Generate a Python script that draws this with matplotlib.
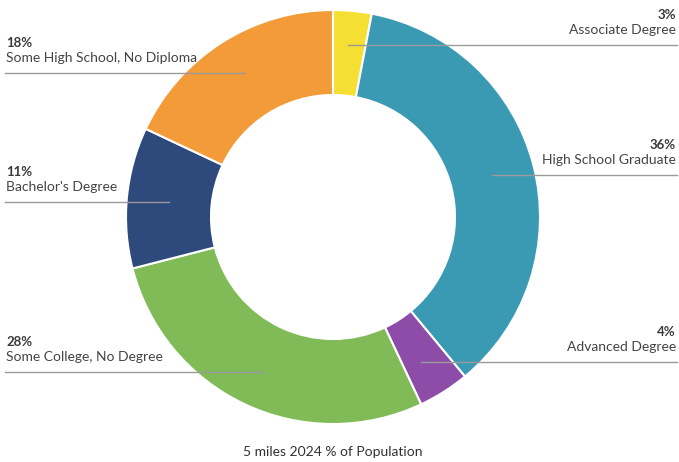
import numpy as np
import matplotlib.pyplot as plt

# data (clockwise from 12 o'clock)
categories = ["Associate Degree", "High School Graduate", "Advanced Degree",
              "Some College, No Degree", "Bachelor's Degree",
              "Some High School, No Diploma"]
shares = [3, 36, 4, 28, 11, 18]
colors = ["#F6DF33", "#3A9AB4", "#8C4CA8", "#80BB58", "#2E4A7C", "#F29B38"]
title = "5 miles 2024 % of Population"

# label layout: side and y (pixels from top) of the leader line
label_side = ["right", "right", "right", "left", "left", "left"]
label_line_y = [45, 175, 362, 372, 202, 73]

W, H = 679, 462
cx, cy = 333, 217
r_out, r_in = 207, 122

fig = plt.figure(figsize=(W / 100, H / 100), dpi=100)
ax = fig.add_axes([0, 0, 1, 1])
ax.axis("off")

wedges, _ = ax.pie(shares, colors=colors, startangle=90, counterclock=False,
                   center=(cx, H - cy), radius=r_out,
                   wedgeprops=dict(width=r_out - r_in, edgecolor="white", linewidth=1.5))
ax.set_xlim(0, W)
ax.set_ylim(0, H)
ax.set_aspect("equal")

r_mid = (r_out + r_in) / 2
font = "Lato"
for w, name, pct, side, ly in zip(wedges, categories, shares, label_side, label_line_y):
    ang = np.deg2rad((w.theta1 + w.theta2) / 2)
    x_end = cx + r_mid * np.cos(ang)
    y = H - ly
    if side == "left":
        ax.plot([5, x_end], [y, y], color="#9a9a9a", lw=1, zorder=5)
        tx, ha = 6, "left"
    else:
        ax.plot([x_end, W - 2], [y, y], color="#9a9a9a", lw=1, zorder=5)
        tx, ha = W - 3, "right"
    ax.text(tx, y + 30, f"{pct}%", ha=ha, va="center", fontsize=9.5,
            fontweight="bold", color="#3a3a3a", family=font)
    ax.text(tx, y + 15, name, ha=ha, va="center", fontsize=10,
            color="#444444", family=font)

ax.text(cx, H - 452, title, ha="center", va="center", fontsize=10,
        color="#333333", family=font)

fig.savefig("out.png", dpi=100)
